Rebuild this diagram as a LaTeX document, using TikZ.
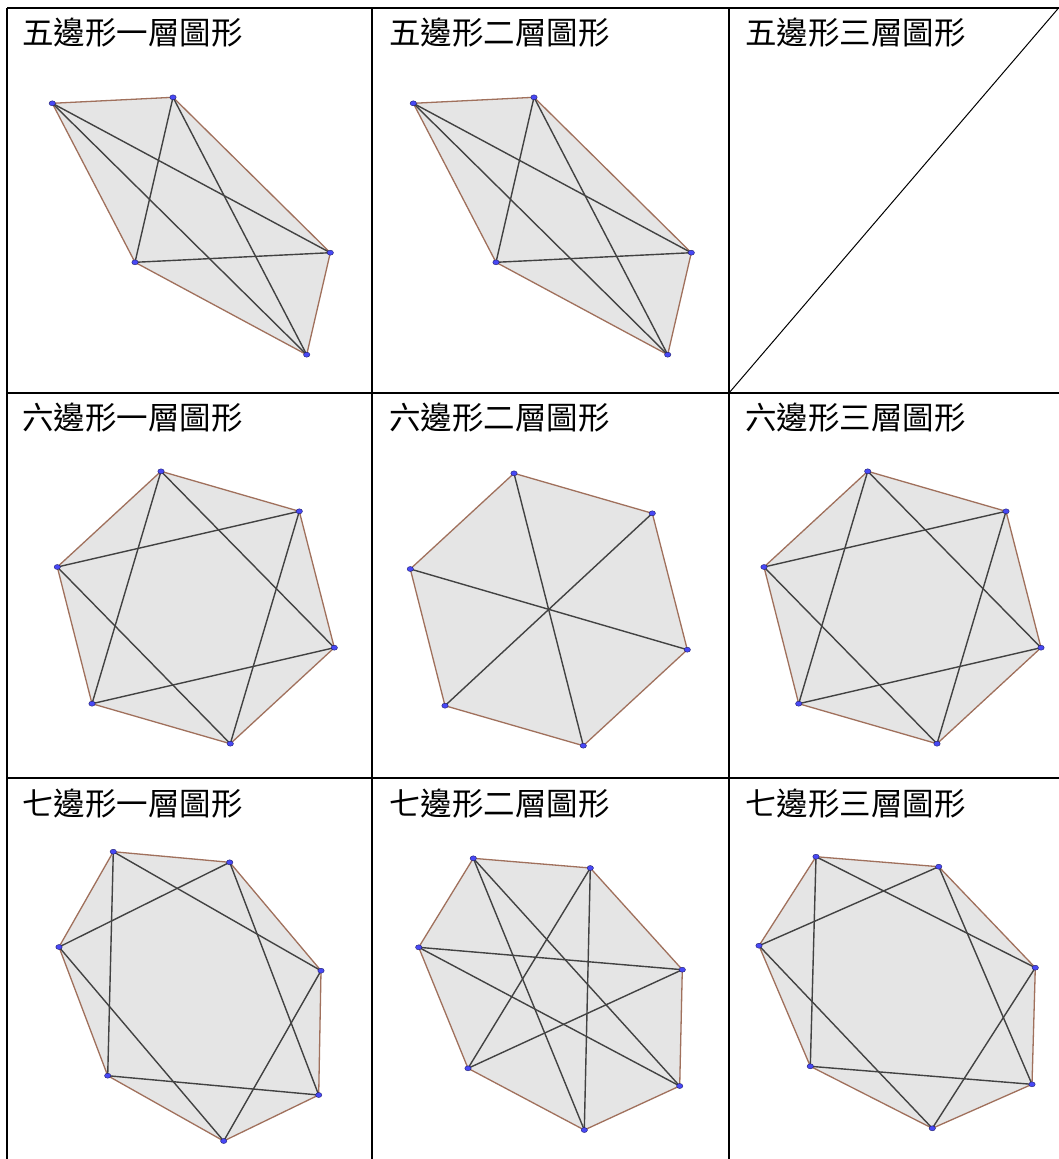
\documentclass[tikz,border=0pt]{standalone}
\usepackage{fontspec}
\newfontfamily\cjk{Noto Sans CJK TC}
\usepackage{xcolor}
\usepackage{tikz}
\usetikzlibrary{calc}

\definecolor{rimbrown}{RGB}{160,112,92}
\definecolor{diaggray}{RGB}{66,66,66}
\definecolor{ptblue}{RGB}{72,72,245}
\definecolor{ptedge}{RGB}{30,30,110}

\tikzset{
  gridline/.style={line width=2pt,black},
  cellfill/.style={fill=black!10},
  rim/.style={draw=rimbrown,line width=1.3pt,line join=round},
  diag/.style={draw=diaggray,line width=1.4pt},
  vtx/.style={fill=ptblue,draw=ptedge,line width=0.4pt},
  caption/.style={anchor=base west,inner sep=0pt,font=\cjk\fontsize{31.5}{36}\selectfont}
}

\begin{document}
\begin{tikzpicture}[x=1pt,y=-1pt]
    \useasboundingbox[fill=white] (0,0) rectangle (1059,1159);
    % table
    \draw[gridline] (7,7.5) -- (1059,7.5);
    \draw[gridline] (7,393) -- (1059,393);
    \draw[gridline] (7,778) -- (1059,778);
    \foreach \x in {7,372,729}{
      \draw[gridline] (\x,7.5) -- (\x,1159);
    }
    % captions
    \node[caption] (c11) at (22,44.5) {五邊形一層圖形};
    \node[caption] (c12) at (389,44.5) {五邊形二層圖形};
    \node[caption] (c13) at (745,44.5) {五邊形三層圖形};
    \node[caption] (c21) at (22,429.5) {六邊形一層圖形};
    \node[caption] (c22) at (389,429.5) {六邊形二層圖形};
    \node[caption] (c23) at (745,429.5) {六邊形三層圖形};
    \node[caption] (c31) at (22,815.5) {七邊形一層圖形};
    \node[caption] (c32) at (389,815.5) {七邊形二層圖形};
    \node[caption] (c33) at (745,815.5) {七邊形三層圖形};
    % empty cell
    \coordinate (e1) at (729,393);
    \coordinate (e2) at (1059,7.5);
    \draw[line width=1pt] (e1) -- (e2);

    % pentagons
    \foreach \n/\x/\y in {1/52.3/103.3,2/173/97.3,3/330.3/252.7,4/306.7/354.7,5/135/262.3}{
      \coordinate (pa\n) at (\x,\y);
      \coordinate (pb\n) at (\x+361,\y);
    }
    \foreach \p in {pa,pb}{
      \filldraw[cellfill,rim] (\p1) -- (\p2) -- (\p3) -- (\p4) -- (\p5) -- cycle;
      \foreach \i/\j in {1/3,1/4,2/4,2/5,3/5}{
        \draw[diag] (\p\i) -- (\p\j);
      }
      \foreach \n in {1,...,5}{
        \filldraw[vtx] (\p\n) ellipse [x radius=3.2,y radius=2.5];
      }
    }

    % hexagons
    \foreach \n/\x/\y in {1/161/471.3,2/299.3/511.3,3/334.3/647.7,4/230.3/743.7,5/92/703.7,6/57.3/567}{
      \coordinate (ha\n) at (\x,\y);
      \coordinate (hb\n) at (\x+353,\y+2);
      \coordinate (hc\n) at (\x+706.7,\y);
    }
    \foreach \p in {ha,hb,hc}{
      \filldraw[cellfill,rim] (\p1) -- (\p2) -- (\p3) -- (\p4) -- (\p5) -- (\p6) -- cycle;
    }
    \foreach \p in {ha,hc}{
      \foreach \i/\j in {1/3,3/5,5/1,2/4,4/6,6/2}{
        \draw[diag] (\p\i) -- (\p\j);
      }
    }
    \foreach \i/\j in {1/4,2/5,3/6}{
      \draw[diag] (hb\i) -- (hb\j);
    }
    \foreach \p in {ha,hb,hc}{
      \foreach \n in {1,...,6}{
        \filldraw[vtx] (\p\n) ellipse [x radius=3.2,y radius=2.5];
      }
    }

    % heptagons
    \foreach \n/\x/\y in {1/113.3/851.7,2/229.7/862.3,3/321/970.7,4/318.7/1095,5/223.7/1141,6/107.7/1075.7,7/59/947}{
      \coordinate (sa\n) at (\x,\y);
    }
    \foreach \n/\x/\y in {1/473.3/858.3,2/590.3/868,3/682.3/969.7,4/679.7/1086,5/584.3/1130,6/468/1068.3,7/418.7/947.3}{
      \coordinate (sb\n) at (\x,\y);
    }
    \foreach \n/\x/\y in {1/816/856.7,2/938.7/866.7,3/1035.3/967.7,4/1032/1084.3,5/932.3/1128.3,6/810.3/1066.3,7/759/945.7}{
      \coordinate (sc\n) at (\x,\y);
    }
    \foreach \p in {sa,sb,sc}{
      \filldraw[cellfill,rim] (\p1) -- (\p2) -- (\p3) -- (\p4) -- (\p5) -- (\p6) -- (\p7) -- cycle;
    }
    \foreach \p in {sa,sc}{
      \foreach \i/\j in {1/3,2/4,3/5,4/6,5/7,6/1,7/2}{
        \draw[diag] (\p\i) -- (\p\j);
      }
    }
    \foreach \i/\j in {1/4,2/5,3/6,4/7,5/1,6/2,7/3}{
      \draw[diag] (sb\i) -- (sb\j);
    }
    \foreach \p in {sa,sb,sc}{
      \foreach \n in {1,...,7}{
        \filldraw[vtx] (\p\n) ellipse [x radius=3.2,y radius=2.5];
      }
    }
  \end{tikzpicture}
\end{document}
